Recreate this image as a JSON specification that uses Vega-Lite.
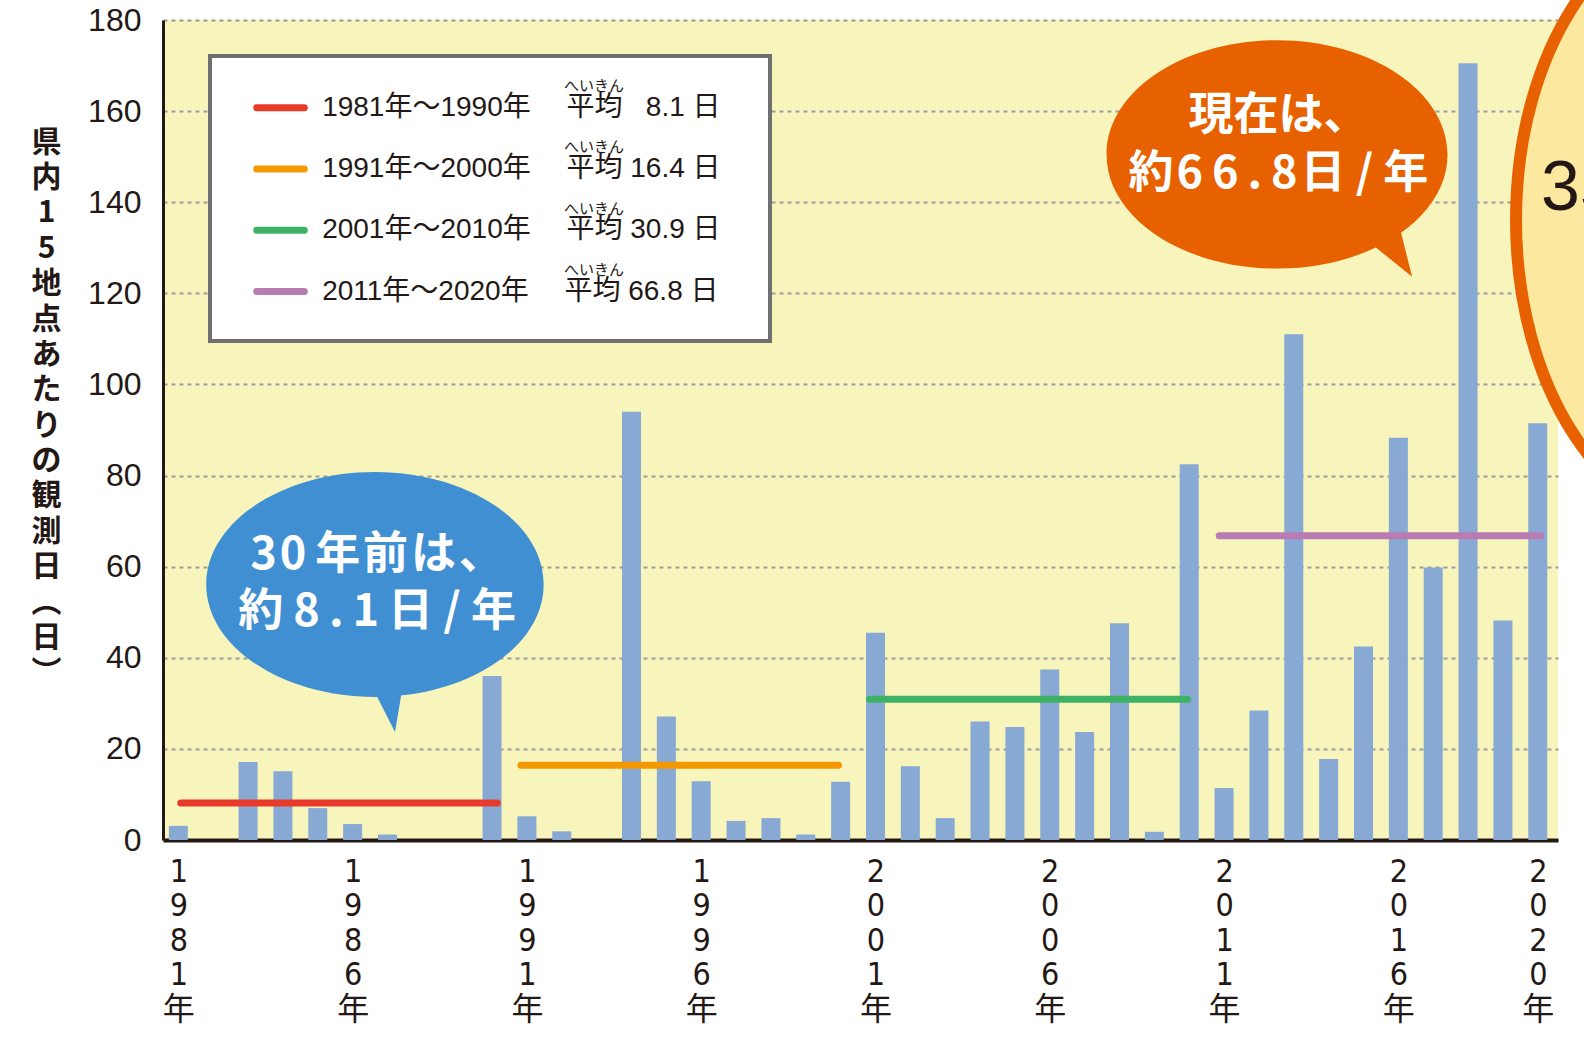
{
  "$schema": "https://vega.github.io/schema/vega-lite/v6.json",
  "width": 1395,
  "height": 820,
  "autosize": {"type": "none"},
  "padding": {"left": 163, "top": 20, "right": 26, "bottom": 204},
  "background": "white",
  "config": {"view": {"fill": "#f8f5bc", "stroke": null}, "font": "Liberation Sans"},
  "datasets": {
    "bars": [
      {"year": 1981, "days": 3.1}, {"year": 1982, "days": 0}, {"year": 1983, "days": 17.1}, {"year": 1984, "days": 15.1},
      {"year": 1985, "days": 7.0}, {"year": 1986, "days": 3.5}, {"year": 1987, "days": 1.2}, {"year": 1988, "days": 0},
      {"year": 1989, "days": 0}, {"year": 1990, "days": 36.0}, {"year": 1991, "days": 5.2}, {"year": 1992, "days": 1.9},
      {"year": 1993, "days": 0}, {"year": 1994, "days": 94.0}, {"year": 1995, "days": 27.1}, {"year": 1996, "days": 12.9},
      {"year": 1997, "days": 4.2}, {"year": 1998, "days": 4.8}, {"year": 1999, "days": 1.2}, {"year": 2000, "days": 12.8},
      {"year": 2001, "days": 45.5}, {"year": 2002, "days": 16.2}, {"year": 2003, "days": 4.8}, {"year": 2004, "days": 26.0},
      {"year": 2005, "days": 24.8}, {"year": 2006, "days": 37.4}, {"year": 2007, "days": 23.7}, {"year": 2008, "days": 47.6},
      {"year": 2009, "days": 1.8}, {"year": 2010, "days": 82.5}, {"year": 2011, "days": 11.4}, {"year": 2012, "days": 28.4},
      {"year": 2013, "days": 111.0}, {"year": 2014, "days": 17.8}, {"year": 2015, "days": 42.5}, {"year": 2016, "days": 88.3},
      {"year": 2017, "days": 59.8}, {"year": 2018, "days": 170.5}, {"year": 2019, "days": 48.2}, {"year": 2020, "days": 91.5}
    ],
    "periods": [
      {"period": "1981年〜1990年\u3000 平均 \u20078.1 日\u2002\u200B", "start": 1981.07, "end": 1990.15, "mean": 8.1, "ruby": "a"},
      {"period": "1991年〜2000年\u3000 平均 16.4 日\u2002\u200B", "start": 1990.83, "end": 1999.94, "mean": 16.4, "ruby": "b"},
      {"period": "2001年〜2010年\u3000 平均 30.9 日\u2002\u200B", "start": 2000.83, "end": 2009.95, "mean": 30.9, "ruby": "c"},
      {"period": "2011年〜2020年\u3000 平均 66.8 日\u2002\u200B", "start": 2010.86, "end": 2020.08, "mean": 66.8, "ruby": "d"}
    ]
  },
  "layer": [
    {
      "data": {"name": "bars"},
      "mark": {"type": "bar", "size": 19, "color": "#88a9d4"},
      "encoding": {
        "x": {
          "field": "year", "type": "quantitative",
          "scale": {"domain": [1980.56, 2020.58], "nice": false, "zero": false, "padding": 0},
          "axis": {
            "values": [1981, 1986, 1991, 1996, 2001, 2006, 2011, 2016, 2020],
            "labelExpr": "split(datum.value + '年', '')",
            "title": null, "ticks": false, "grid": false,
            "domainColor": "#231815", "domainWidth": 4,
            "labelFont": "Liberation Sans Narrow, DejaVu Sans Condensed, Noto Sans CJK JP",
            "labelFontSize": 32, "labelLineHeight": 34.6, "labelPadding": 16,
            "labelBaseline": "top", "labelAlign": "center", "labelFlush": false,
            "labelOverlap": false, "labelColor": "#231815"
          }
        },
        "y": {
          "field": "days", "type": "quantitative",
          "scale": {"domain": [0, 180], "nice": false},
          "axis": {
            "values": [0, 20, 40, 60, 80, 100, 120, 140, 160, 180],
            "title": ["県", "内", "1", "5", "地", "点", "あ", "た", "り", "の", "観", "測", "日", "︵", "日", "︶"],
            "titleAngle": 0, "titleX": -117, "titleY": 107, "titleAlign": "center", "titleBaseline": "top",
            "titleLineHeight": 35.4, "titleFont": "Noto Sans CJK JP", "titleFontWeight": "bold",
            "titleFontSize": 30, "titleColor": "#231815",
            "labelFont": "Liberation Sans", "labelFontSize": 32, "labelColor": "#231815", "labelPadding": 22,
            "ticks": false, "domainColor": "#231815", "domainWidth": 3,
            "grid": true, "gridColor": "#9b9b9b", "gridDash": [4, 4], "gridWidth": 2
          }
        }
      }
    },
    {
      "data": {"name": "periods"},
      "mark": {"type": "rule", "strokeWidth": 7, "strokeCap": "round"},
      "encoding": {
        "x": {"field": "start", "type": "quantitative"},
        "x2": {"field": "end"},
        "y": {"field": "mean", "type": "quantitative"},
        "stroke": {
          "field": "period", "type": "nominal",
          "scale": {
            "domain": ["1981年〜1990年\u3000 平均 \u20078.1 日\u2002\u200B", "1991年〜2000年\u3000 平均 16.4 日\u2002\u200B", "2001年〜2010年\u3000 平均 30.9 日\u2002\u200B", "2011年〜2020年\u3000 平均 66.8 日\u2002\u200B"],
            "range": ["#e83a2b", "#f39800", "#3eb264", "#b97bb4"]
          },
          "legend": {
            "orient": "none", "legendX": 47, "legendY": 36, "direction": "vertical", "title": null,
            "symbolType": "M-1.8,0H1.8", "symbolSize": 697, "symbolStrokeWidth": 7, "symbolOffset": 18.75,
            "labelFont": "Liberation Sans, Noto Sans CJK JP", "labelFontSize": 28, "labelColor": "#231815",
            "labelOffset": 24.6, "labelLimit": 800, "rowPadding": 30.25, "padding": 34.8,
            "fillColor": "white", "strokeColor": "#707070", "zindex": 0,
            "encode": {
              "symbols": {"update": {"strokeCap": {"value": "round"}}},
              "legend": {"update": {"strokeWidth": {"value": 4}}}
            }
          }
        }
      }
    },
    {
      "data": {"name": "periods"},
      "mark": {"type": "point", "opacity": 0},
      "encoding": {
        "x": {"field": "start", "type": "quantitative"},
        "y": {"field": "mean", "type": "quantitative"},
        "shape": {
          "field": "ruby", "type": "nominal",
          "scale": {"domain": ["a", "b", "c", "d"]},
          "legend": {
            "orient": "none", "legendX": 386, "legendY": 58, "direction": "vertical", "title": null,
            "labelExpr": "'へいきん'", "labelFont": "Noto Sans CJK JP", "labelFontSize": 15, "labelColor": "#231815",
            "symbolOpacity": 0, "symbolSize": 1, "labelOffset": 0, "rowPadding": 45.5, "padding": 0, "zindex": 1
          }
        }
      }
    },
    {
      "data": {"values": [{}]},
      "mark": {
        "type": "point", "filled": true, "opacity": 1, "fill": "#3f8fd2", "strokeWidth": 0, "size": 113839,
        "shape": "M-1,0 C-1,-0.368 -0.552,-0.667 0,-0.667 C0.552,-0.667 1,-0.368 1,0 C1,0.368 0.552,0.667 0,0.667 C-0.552,0.667 -1,0.368 -1,0 Z M0.16,0.63 L0.119,0.875 L0,0.64 Z"
      },
      "encoding": {
        "x": {"datum": 1986.64, "type": "quantitative"},
        "y": {"datum": 56.1, "type": "quantitative"}
      }
    },
    {
      "data": {"values": [{}]},
      "mark": {
        "type": "text", "text": ["3\u200A0\u2009年\u200A前\u200Aは\u200A、", "約 8\u2009.\u20091\u2009日 / 年"], "font": "Noto Sans CJK JP", "fontSize": 45,
        "fontWeight": "bold", "fill": "white", "align": "center", "baseline": "middle", "lineHeight": 57
      },
      "encoding": {
        "x": {"datum": 1986.7, "type": "quantitative"},
        "y": {"datum": 62.5, "type": "quantitative"}
      }
    },
    {
      "data": {"values": [{}]},
      "mark": {
        "type": "point", "filled": true, "opacity": 1, "fill": "#e86100", "strokeWidth": 0, "size": 116281,
        "shape": "M-1,0 C-1,-0.37 -0.552,-0.67 0,-0.67 C0.552,-0.67 1,-0.37 1,0 C1,0.37 0.552,0.67 0,0.67 C-0.552,0.67 -1,0.37 -1,0 Z M0.72,0.43 L0.792,0.718 L0.56,0.53 Z"
      },
      "encoding": {
        "x": {"datum": 2012.52, "type": "quantitative"},
        "y": {"datum": 150.5, "type": "quantitative"}
      }
    },
    {
      "data": {"values": [{}]},
      "mark": {
        "type": "text", "text": ["現在は、", "約\u200A6\u20096\u2009.\u20098\u200A日 / 年"], "font": "Noto Sans CJK JP", "fontSize": 45,
        "fontWeight": "bold", "fill": "white", "align": "center", "baseline": "middle", "lineHeight": 58.5
      },
      "encoding": {
        "x": {"datum": 2012.56, "type": "quantitative"},
        "y": {"datum": 159.0, "type": "quantitative"}
      }
    },
    {
      "data": {"values": [{}]},
      "mark": {
        "type": "point", "filled": true, "opacity": 1, "fill": "#fde8a0", "stroke": "#e86100", "strokeWidth": 12, "size": 152100,
        "shape": "M-1,0 C-1,-0.855 -0.552,-1.549 0,-1.549 C0.552,-1.549 1,-0.855 1,0 C1,0.855 0.552,1.549 0,1.549 C-0.552,1.549 -1,0.855 -1,0 Z"
      },
      "encoding": {
        "x": {"datum": 2024.97, "type": "quantitative"},
        "y": {"datum": 136.1, "type": "quantitative"}
      }
    },
    {
      "data": {"values": [{}]},
      "mark": {
        "type": "text", "text": "35", "font": "Liberation Sans", "fontSize": 70,
        "fill": "#231815", "align": "left", "baseline": "middle"
      },
      "encoding": {
        "x": {"datum": 2020.09, "type": "quantitative"},
        "y": {"datum": 142.8, "type": "quantitative"}
      }
    }
  ]
}
